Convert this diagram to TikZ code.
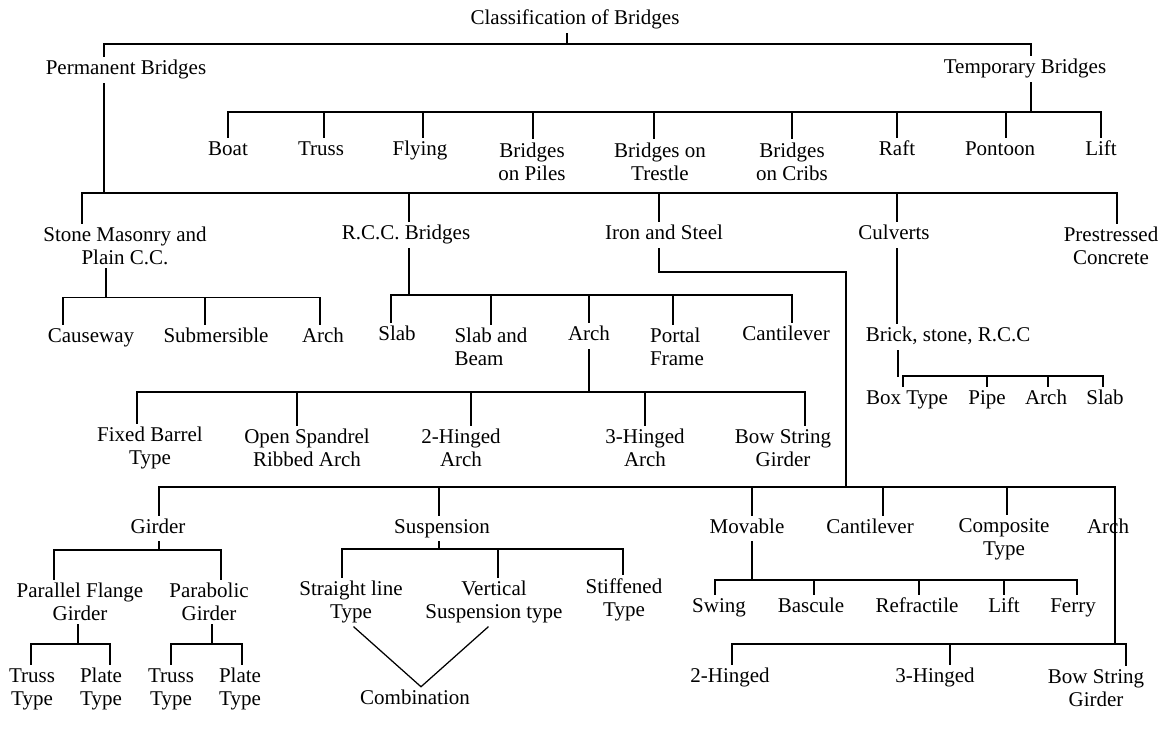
\documentclass[tikz,border=0pt]{standalone}
\usepackage{fontspec}
\setmainfont{Liberation Serif}
\newcommand\tickto[3]{\draw[ln] ([xshift=#3pt]#1.north |- #2) -- ([xshift=#3pt]#1.north);}
\newcommand\dropfrom[3]{\draw[ln] ([xshift=#3pt]#1.south) -- ([xshift=#3pt]#1.south |- #2);}
\newcommand\busline[5]{\draw[ln] ([xshift=#3pt]#2.north |- #1) -- ([xshift=#5pt]#4.north |- #1);}
\begin{document}
\begin{tikzpicture}[x=1pt,y=-1pt,
  lbl/.style={font=\fontsize{21pt}{23pt}\selectfont, inner sep=0pt, outer sep=4pt, align=center},
  lbls/.style={lbl, text height=14pt, text depth=4.5pt},
  lbll/.style={lbl, align=left},
  ln/.style={line width=1.25pt, line cap=rect}]
\fill[white] (0,0) rectangle (1159,731);
\path[use as bounding box] (0,0) rectangle (1159,731);
% bus levels
\coordinate (y0) at (0,44);
\coordinate (yT) at (0,112);
\coordinate (y2) at (0,193);
\coordinate (yS) at (0,297.5);
\coordinate (yR) at (0,295);
\coordinate (yA) at (0,392);
\coordinate (yI) at (0,272);
\coordinate (yB) at (0,487);
\coordinate (yG) at (0,550);
\coordinate (yP) at (0,644);
\coordinate (yU) at (0,549);
\coordinate (yM) at (0,580);
\coordinate (yH) at (0,644);
\coordinate (yC) at (0,376);
\coordinate (ic) at (846,272);
% nodes
\node[lbls] (root) at (575,20) {Classification of Bridges};
\node[lbls] (perm) at (126,70) {Permanent Bridges};
\node[lbls] (temp) at (1025,69) {Temporary Bridges};
\node[lbls] (boat) at (228,151) {Boat};
\node[lbls] (truss) at (321,151) {Truss};
\node[lbls] (flying) at (420,151) {Flying};
\node[lbl] (piles) at (532,161.5) {Bridges\\on Piles};
\node[lbl] (trestle) at (660,161.5) {Bridges on\\Trestle};
\node[lbl] (cribs) at (792,161.5) {Bridges\\on Cribs};
\node[lbls] (raft) at (897,151) {Raft};
\node[lbls] (pontoon) at (1000,151) {Pontoon};
\node[lbls] (lift) at (1101,151) {Lift};
\node[lbl] (stone) at (125,246) {Stone Masonry and\\Plain C.C.};
\node[lbls] (rcc) at (406,235) {R.C.C. Bridges};
\node[lbls] (iron) at (664,235) {Iron and Steel};
\node[lbls] (culv) at (894,235) {Culverts};
\node[lbl] (pres) at (1111,246) {Prestressed\\Concrete};
\node[lbls] (cause) at (91,338) {Causeway};
\node[lbls] (subm) at (216,338) {Submersible};
\node[lbls] (sarch) at (323,338) {Arch};
\node[lbls] (slab) at (397,336) {Slab};
\node[lbll] (slabbeam) at (491,347) {Slab and\\Beam};
\node[lbls] (rarch) at (589,336) {Arch};
\node[lbll] (portal) at (677,347) {Portal\\Frame};
\node[lbls] (rcant) at (786,336) {Cantilever};
\node[lbl] (fixed) at (150,448) {Fixed Barrel\\Type};
\node[lbl] (open) at (307,448) {Open Spandrel\\Ribbed Arch};
\node[lbl] (two) at (461,448) {2-Hinged\\Arch};
\node[lbl] (three) at (645,448) {3-Hinged\\Arch};
\node[lbl] (bow) at (783,448) {Bow String\\Girder};
\node[lbls] (brick) at (948,337) {Brick, stone, R.C.C};
\node[lbls] (box) at (907,400) {Box Type};
\node[lbls] (pipe) at (987,400) {Pipe};
\node[lbls] (carch) at (1046,400) {Arch};
\node[lbls] (cslab) at (1105,400) {Slab};
\node[lbls] (girder) at (158,528.5) {Girder};
\node[lbls] (susp) at (442,528.5) {Suspension};
\node[lbls] (mov) at (747,528.5) {Movable};
\node[lbls] (icant) at (870,528.5) {Cantilever};
\node[lbl] (comp) at (1004,539) {Composite\\Type};
\node[lbls] (iarch) at (1108,528.5) {Arch};
\node[lbl] (pfg) at (80,602) {Parallel Flange\\Girder};
\node[lbl] (pg) at (209,602) {Parabolic\\Girder};
\node[lbl] (tt1) at (32,689) {Truss\\Type};
\node[lbl] (pt1) at (101,689) {Plate\\Type};
\node[lbl] (tt2) at (171,689) {Truss\\Type};
\node[lbl] (pt2) at (240,689) {Plate\\Type};
\node[lbl] (sl) at (351,602) {Straight line\\Type};
\node[lbl] (vs) at (494,602) {Vertical\\Suspension type};
\node[lbl] (st) at (624,600) {Stiffened\\Type};
\node[lbls] (comb) at (415,700) {Combination};
\node[lbls] (swing) at (719,608) {Swing};
\node[lbls] (basc) at (811,608) {Bascule};
\node[lbls] (refr) at (917,608) {Refractile};
\node[lbls] (mlift) at (1004,608) {Lift};
\node[lbls] (ferry) at (1073,608) {Ferry};
\node[lbls] (h2) at (730,678) {2-Hinged};
\node[lbls] (h3) at (935,678) {3-Hinged};
\node[lbl] (bsg) at (1096,688) {Bow String\\Girder};
% level 0
\dropfrom{root}{y0}{-8}
\busline{y0}{perm}{-22}{temp}{6}
\tickto{perm}{y0}{-22}
\tickto{temp}{y0}{6}
% temporary
\dropfrom{temp}{yT}{6}
\busline{yT}{boat}{0}{lift}{0}
\tickto{boat}{yT}{0}
\tickto{truss}{yT}{3}
\tickto{flying}{yT}{3}
\tickto{piles}{yT}{1}
\tickto{trestle}{yT}{-6}
\tickto{cribs}{yT}{0}
\tickto{raft}{yT}{0}
\tickto{pontoon}{yT}{6}
\tickto{lift}{yT}{0}
% permanent
\dropfrom{perm}{y2}{-22}
\busline{y2}{stone}{-43}{pres}{6}
\tickto{stone}{y2}{-43}
\tickto{rcc}{y2}{3}
\tickto{iron}{y2}{-5}
\tickto{culv}{y2}{3}
\tickto{pres}{y2}{6}
% stone masonry
\dropfrom{stone}{yS}{-19}
\busline{yS}{cause}{-28}{sarch}{-3}
\tickto{cause}{yS}{-28}
\tickto{subm}{yS}{-11}
\tickto{sarch}{yS}{-3}
% rcc
\dropfrom{rcc}{yR}{3}
\busline{yR}{slab}{-6}{rcant}{6}
\tickto{slab}{yR}{-6}
\tickto{slabbeam}{yR}{0}
\tickto{rarch}{yR}{0}
\tickto{portal}{yR}{-4}
\tickto{rcant}{yR}{6}
% rcc arch
\dropfrom{rarch}{yA}{0}
\busline{yA}{fixed}{-13}{bow}{22}
\tickto{fixed}{yA}{-13}
\tickto{open}{yA}{-10}
\tickto{two}{yA}{10}
\tickto{three}{yA}{0}
\tickto{bow}{yA}{22}
% culverts
\draw[ln] ([xshift=3pt]culv.south) -- ([xshift=3pt]culv.south |- brick.north);
\dropfrom{brick}{yC}{-50}
\busline{yC}{box}{-4}{cslab}{-2}
\tickto{box}{yC}{-4}
\tickto{pipe}{yC}{0}
\tickto{carch}{yC}{2}
\tickto{cslab}{yC}{-2}
% iron and steel
\draw[ln] ([xshift=-5pt]iron.south) -- ([xshift=-5pt]iron.south |- yI) -- (ic) -- (ic |- yB);
\busline{yB}{girder}{1}{iarch}{7}
\tickto{girder}{yB}{1}
\tickto{susp}{yB}{-3}
\tickto{mov}{yB}{5}
\tickto{icant}{yB}{13}
\tickto{comp}{yB}{3}
\draw[ln] ([xshift=7pt]iarch.north |- yB) -- ([xshift=7pt]iarch.north |- yH);
% girder
\dropfrom{girder}{yG}{1}
\busline{yG}{pfg}{-26}{pg}{12}
\tickto{pfg}{yG}{-26}
\tickto{pg}{yG}{12}
\dropfrom{pfg}{yP}{-2}
\busline{yP}{tt1}{-1}{pt1}{9}
\tickto{tt1}{yP}{-1}
\tickto{pt1}{yP}{9}
\dropfrom{pg}{yP}{3}
\busline{yP}{tt2}{0}{pt2}{2}
\tickto{tt2}{yP}{0}
\tickto{pt2}{yP}{2}
% suspension
\dropfrom{susp}{yU}{-3}
\busline{yU}{sl}{-9}{st}{-1}
\tickto{sl}{yU}{-9}
\tickto{vs}{yU}{4}
\tickto{st}{yU}{-1}
\draw[ln] ([xshift=3pt]sl.south) -- ([xshift=6pt]comb.north) -- ([xshift=-6pt]vs.south);
% movable
\dropfrom{mov}{yM}{5}
\busline{yM}{swing}{-4}{ferry}{4}
\tickto{swing}{yM}{-4}
\tickto{basc}{yM}{3}
\tickto{refr}{yM}{2}
\tickto{mlift}{yM}{0}
\tickto{ferry}{yM}{4}
% iron arch
\busline{yH}{h2}{2}{bsg}{30}
\tickto{h2}{yH}{2}
\tickto{h3}{yH}{15}
\tickto{bsg}{yH}{30}
\end{tikzpicture}
\end{document}
